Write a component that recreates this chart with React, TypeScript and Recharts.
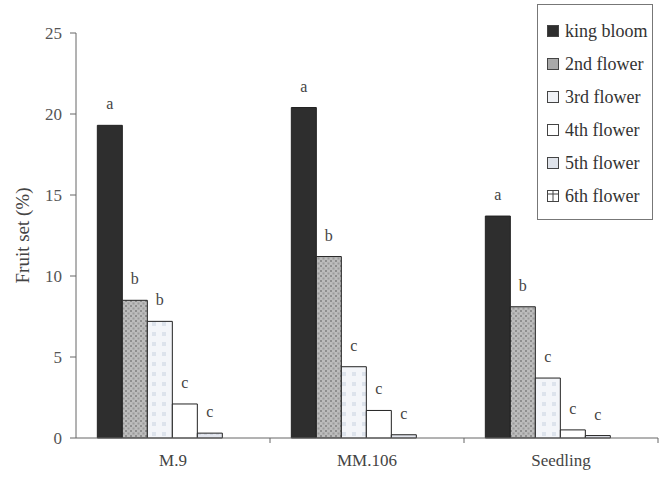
import React from "react";
import { BarChart, Bar, XAxis, YAxis, LabelList } from "recharts";

// rootstocks on the x axis
const rootstocks = ["M.9", "MM.106", "Seedling"];

// fruit set (%) per flower position
const kingBloom = [19.3, 20.4, 13.7];
const flower2 = [8.5, 11.2, 8.1];
const flower3 = [7.2, 4.4, 3.7];
const flower4 = [2.1, 1.7, 0.5];
const flower5 = [0.3, 0.2, 0.15];
const flower6 = [0, 0, 0];

// significance letters above each bar
const kingLetters = ["a", "a", "a"];
const letters2 = ["b", "b", "b"];
const letters3 = ["b", "c", "c"];
const letters4 = ["c", "c", "c"];
const letters5 = ["c", "c", "c"];

const yTicks = [0, 5, 10, 15, 20, 25];

const data = rootstocks.map((name, i) => ({
  name,
  king: kingBloom[i],
  f2: flower2[i],
  f3: flower3[i],
  f4: flower4[i],
  f5: flower5[i],
  f6: flower6[i],
  l1: kingLetters[i],
  l2: letters2[i],
  l3: letters3[i],
  l4: letters4[i],
  l5: letters5[i],
}));

const FONT = "Liberation Serif";

const series = [
  { key: "king", label: "king bloom", fill: "#2e2e2e", letters: "l1" },
  { key: "f2", label: "2nd flower", fill: "url(#pat2)", letters: "l2" },
  { key: "f3", label: "3rd flower", fill: "url(#pat3)", letters: "l3" },
  { key: "f4", label: "4th flower", fill: "#ffffff", letters: "l4" },
  { key: "f5", label: "5th flower", fill: "url(#pat5)", letters: "l5" },
  { key: "f6", label: "6th flower", fill: "#ffffff", letters: null },
];

const legendFill: Record<string, string> = {
  king: "#2e2e2e",
  f2: "#a9a9a9",
  f3: "#f0f2f6",
  f4: "#ffffff",
  f5: "#dfe3ea",
  f6: "#ffffff",
};

const LetterLabel = (props: any) => {
  const { x, y, width, value } = props;
  if (!value) return null;
  return (
    <text
      x={x + width / 2}
      y={y - 16}
      textAnchor="middle"
      fontFamily={FONT}
      fontSize={16}
      fill="#444"
    >
      {value}
    </text>
  );
};

// category label at the centre, small tick mark at the band edge
const BAND = 194;
const CategoryTick = (props: any) => {
  const { x, y, payload } = props;
  return (
    <g>
      <line x1={x + BAND / 2} y1={y - 8} x2={x + BAND / 2} y2={y - 3} stroke="#666" />
      <text x={x} y={y + 20} textAnchor="middle" fontFamily={FONT} fontSize={17} fill="#444">
        {payload.value}
      </text>
    </g>
  );
};

// legend box drawn on top of the chart, it does not take room from the plot
const LegendBox = () => (
  <div
    style={{
      position: "absolute",
      left: 537,
      top: 4,
      width: 116,
      border: "1px solid #777",
      background: "#fff",
      padding: "10px 0 6px 9px",
      boxSizing: "border-box",
      fontFamily: FONT,
      fontSize: 18,
      color: "#333",
    }}
  >
    {series.map((s) => (
      <div key={s.key} style={{ display: "flex", alignItems: "center", height: 33 }}>
        <svg width={13} height={13} style={{ marginRight: 5, flexShrink: 0 }}>
          <rect x={0.5} y={0.5} width={11} height={11} fill={legendFill[s.key]} stroke="#444" />
          {s.key === "f6" && (
            <g stroke="#444">
              <line x1={6} y1={0.5} x2={6} y2={11.5} />
              <line x1={0.5} y1={4} x2={11.5} y2={4} />
            </g>
          )}
        </svg>
        <span style={{ whiteSpace: "nowrap" }}>{s.label}</span>
      </div>
    ))}
  </div>
);

export default function App() {
  return (
    <div style={{ position: "absolute", left: 0, top: 0, width: 659, height: 482, background: "#fff" }}>
      <BarChart
        width={659}
        height={482}
        data={data}
        margin={{ top: 33, right: 1, bottom: 8, left: 14 }}
        barCategoryGap="11%"
        barGap={0}
      >
        <defs>
          <pattern id="pat2" width="5" height="5" patternUnits="userSpaceOnUse">
            <rect width="5" height="5" fill="#bcbcbc" />
            <rect width="2" height="2" fill="#8e8e8e" />
            <rect x="2.5" y="2.5" width="2" height="2" fill="#9a9a9a" />
          </pattern>
          <pattern id="pat3" width="10" height="10" patternUnits="userSpaceOnUse">
            <rect width="10" height="10" fill="#f3f5f9" />
            <rect x="2" y="2" width="4" height="4" fill="#dde3ec" />
          </pattern>
          <pattern id="pat5" width="6" height="6" patternUnits="userSpaceOnUse">
            <rect width="6" height="6" fill="#e3e6ee" />
            <rect width="3" height="3" fill="#d4d8e2" />
          </pattern>
        </defs>
        <XAxis
          dataKey="name"
          stroke="#666"
          tickLine={false}
          tick={<CategoryTick />}
          height={36}
          interval={0}
        />
        <YAxis
          domain={[0, 25]}
          ticks={yTicks}
          stroke="#666"
          width={62}
          tickSize={6}
          tickMargin={8}
          tick={{ fontFamily: FONT, fontSize: 17, fill: "#555" }}
          label={{
            value: "Fruit set (%)",
            angle: -90,
            position: "insideLeft",
            offset: 0,
            dx: 8,
            style: { fontFamily: FONT, fontSize: 19, fill: "#444", textAnchor: "middle" },
          }}
        />
        {series.map((s) => (
          <Bar
            key={s.key}
            dataKey={s.key}
            name={s.label}
            fill={s.fill}
            stroke="#222"
            strokeWidth={1}
            isAnimationActive={false}
          >
            {s.letters && <LabelList dataKey={s.letters} content={<LetterLabel />} />}
          </Bar>
        ))}
      </BarChart>
      <LegendBox />
    </div>
  );
}
